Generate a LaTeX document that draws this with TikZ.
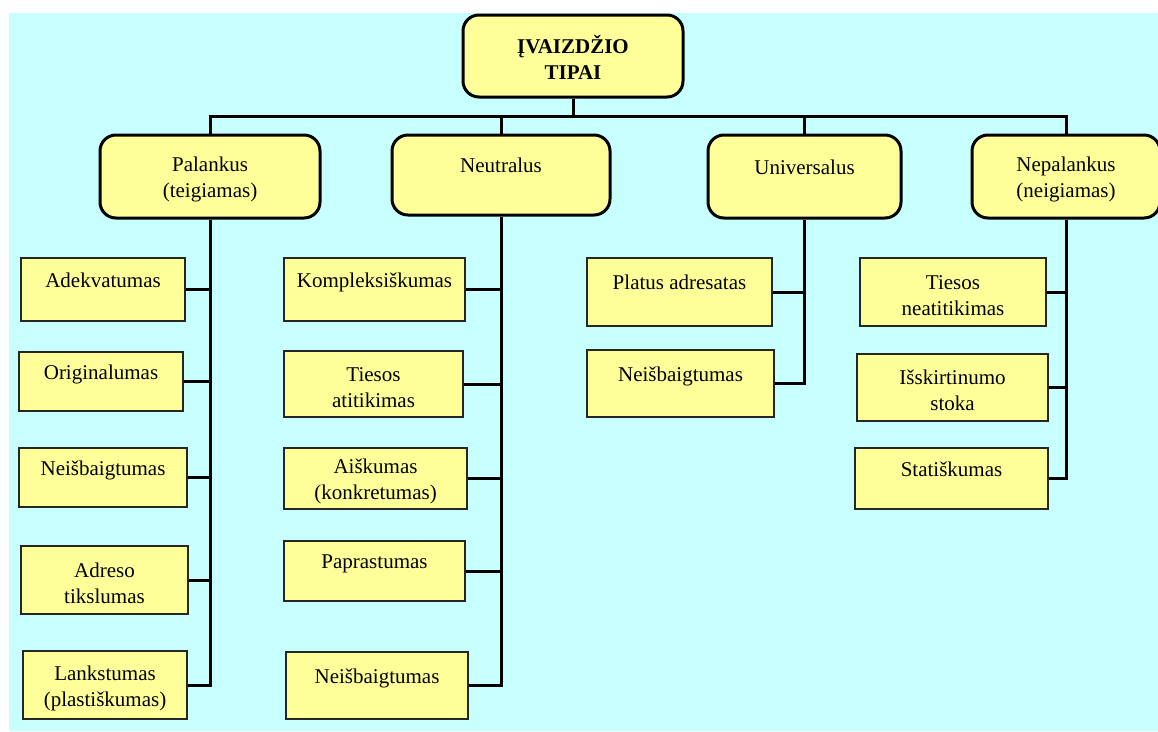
\documentclass[tikz,border=0pt]{standalone}
\usepackage{fontspec}
\setmainfont{Liberation Serif}
\usetikzlibrary{positioning}

\definecolor{bgcyan}{HTML}{C8FFFF}
\definecolor{boxyellow}{HTML}{FFFF99}
\newcommand{\up}{\rule{0pt}{21pt}}

\begin{document}
\begin{tikzpicture}[x=1pt, y=-1pt,
	every node/.style={font=\fontsize{21}{26}\selectfont, align=center, inner sep=0pt},
	rootbox/.style={draw, line width=3pt, rounded corners=16pt, fill=boxyellow, font=\bfseries\fontsize{21}{26}\selectfont},
	catbox/.style={draw, line width=3pt, rounded corners=16pt, fill=boxyellow, minimum height=83pt},
	subbox/.style={draw=black!85, line width=1.2pt, fill=boxyellow},
	conn/.style={line width=3pt}]
	\useasboundingbox (0,0) rectangle (1158,731);
	\fill[bgcyan] (9,13) rectangle (1158,731);

	% top and the four groups
	\node[rootbox, minimum width=220pt, minimum height=82pt] (root) at (573,56) {\up ĮVAIZDŽIO\\TIPAI};
	\coordinate (bus) at (573,116);
	\node[catbox, minimum width=220pt] (pal) at (210,176.5) {\up Palankus\\(teigiamas)};
	\node[catbox, minimum width=218pt, minimum height=80pt] (neu) at (501,175) {\up Neutralus\\~};
	\node[catbox, minimum width=193pt] (uni) at (804.5,176.5) {\up Universalus\\~};
	\node[catbox, minimum width=188pt] (nep) at (1066,176.5) {\up Nepalankus\\(neigiamas)};

	% palankus
	\node[subbox, minimum width=164pt, minimum height=63pt] (adek) at (103,289.5) {\up Adekvatumas\\~};
	\node[subbox, minimum width=164pt, minimum height=59pt] (orig) at (101,381.5) {\up Originalumas\\~};
	\node[subbox, minimum width=168pt, minimum height=59pt] (neisA) at (103,477.5) {\up Neišbaigtumas\\~};
	\node[subbox, minimum width=167pt, minimum height=68pt] (adre) at (104.5,580) {\up Adreso\\tikslumas};
	\node[subbox, minimum width=164pt, minimum height=68pt] (lank) at (105,685) {\up Lankstumas\\(plastiškumas)};

	% neutralus
	\node[subbox, minimum width=181pt, minimum height=63pt] (komp) at (374.5,289.5) {\up Kompleksiškumas\\~};
	\node[subbox, minimum width=179pt, minimum height=66pt] (ties) at (373.5,384) {\up Tiesos\\atitikimas};
	\node[subbox, minimum width=183pt, minimum height=61pt] (aisk) at (375.5,478.5) {\up Aiškumas\\(konkretumas)};
	\node[subbox, minimum width=181pt, minimum height=60pt] (papr) at (374.5,571) {\up Paprastumas\\~};
	\node[subbox, minimum width=182pt, minimum height=67pt] (neisB) at (377,685.5) {\up Neišbaigtumas\\~};

	% universalus
	\node[subbox, minimum width=185pt, minimum height=68pt] (plat) at (679.5,292) {\up Platus adresatas\\~};
	\node[subbox, minimum width=187pt, minimum height=67pt] (neisC) at (680.5,383.5) {\up Neišbaigtumas\\~};

	% nepalankus
	\node[subbox, minimum width=186pt, minimum height=68pt] (tnea) at (953,292) {\up Tiesos\\neatitikimas};
	\node[subbox, minimum width=191pt, minimum height=67pt] (issk) at (952.5,387.5) {\up Išskirtinumo\\stoka};
	\node[subbox, minimum width=193pt, minimum height=61pt] (stat) at (951.5,478.5) {\up Statiškumas\\~};

	% connectors
	\draw[conn] (root.south) -- (root.south |- bus);
	\draw[conn] (pal.north) |- (bus) -| (nep.north);
	\draw[conn] (neu.north) -- (neu.north |- bus);
	\draw[conn] (uni.north) -- (uni.north |- bus);

	\draw[conn] (pal.south) |- (lank.east);
	\foreach \c in {adek,orig,neisA,adre}
		\draw[conn] (\c.east) -- (\c.east -| pal.south);
	\draw[conn] (neu.south) |- (neisB.east);
	\foreach \c in {komp,ties,aisk,papr}
		\draw[conn] (\c.east) -- (\c.east -| neu.south);
	\draw[conn] (uni.south) |- (neisC.east);
	\draw[conn] (plat.east) -- (plat.east -| uni.south);
	\draw[conn] (nep.south) |- (stat.east);
	\foreach \c in {tnea,issk}
		\draw[conn] (\c.east) -- (\c.east -| nep.south);
\end{tikzpicture}
\end{document}
